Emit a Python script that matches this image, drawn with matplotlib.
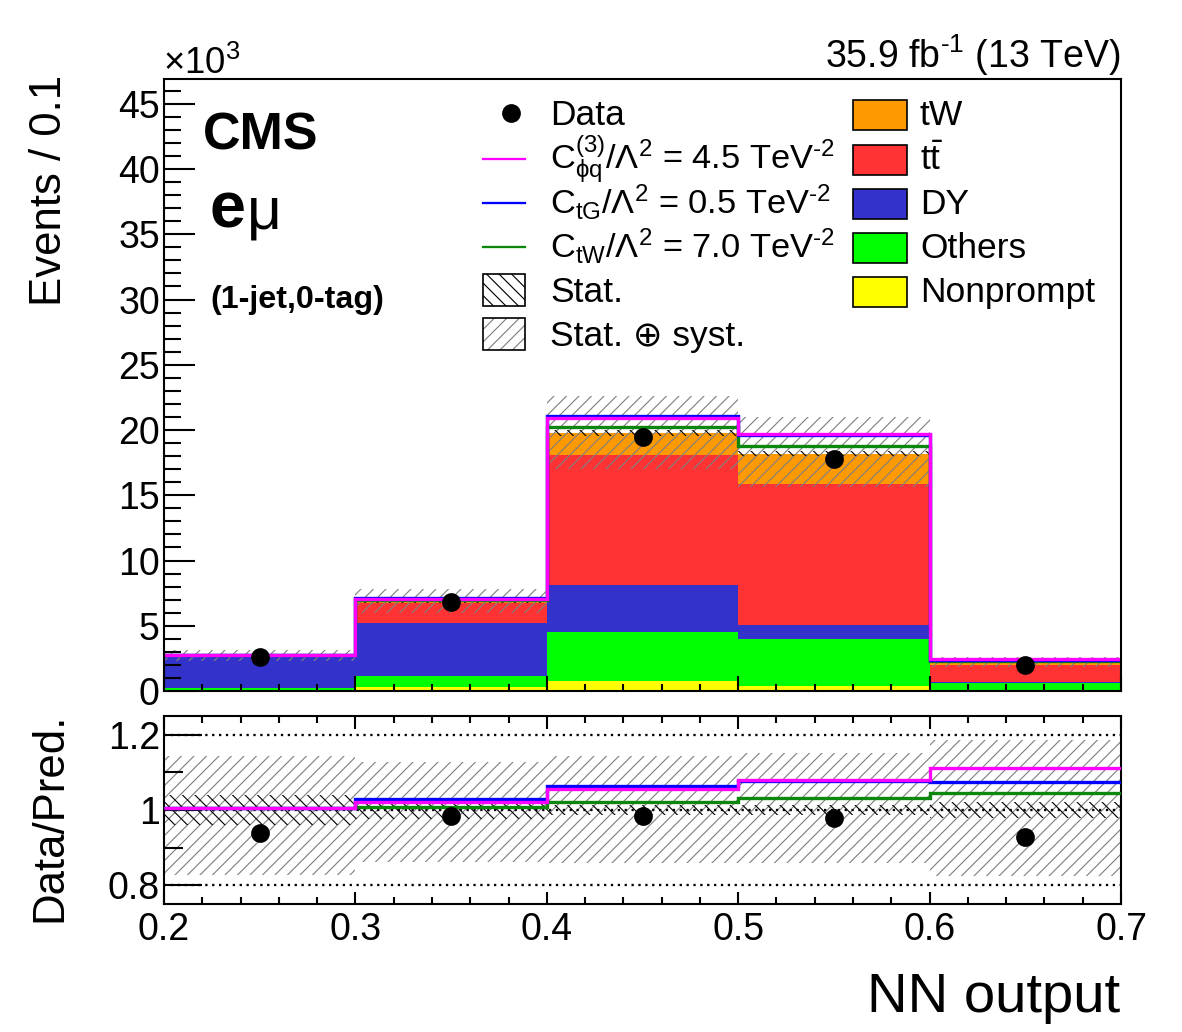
import numpy as np
import matplotlib
matplotlib.use("Agg")
import matplotlib.pyplot as plt
from matplotlib.patches import Rectangle
from matplotlib.lines import Line2D
from matplotlib.ticker import MultipleLocator, FuncFormatter, FixedLocator

# ---------------- data ----------------
bin_edges = [0.2, 0.3, 0.4, 0.5, 0.6, 0.7]
nonprompt = [80, 300, 760, 420, 20]
others = [170, 870, 3740, 3580, 600]
dy = [2430, 4010, 3650, 1080, 40]
ttbar = [50, 1530, 9950, 10820, 1360]
tw = [30, 200, 1700, 2300, 170]
data = [2590, 6800, 19500, 17800, 2030]
ratio_cphiq = [1.006, 1.022, 1.055, 1.081, 1.112]
ratio_ctg = [1.006, 1.028, 1.064, 1.077, 1.074]
ratio_ctw = [1.004, 1.008, 1.022, 1.031, 1.044]
stat_unc = [0.040, 0.025, 0.012, 0.012, 0.020]
tot_unc_up = [0.143, 0.128, 0.143, 0.152, 0.187]
tot_unc_down = [0.172, 0.137, 0.140, 0.140, 0.175]

stack_names = ["Nonprompt", "Others", "DY", r"t$\mathregular{\bar{t}}$", "tW"]
stack_colors = ["#ffff00", "#00ff00", "#3333cc", "#ff3333", "#ff9900"]
legend_order = [4, 3, 2, 1, 0]

# ---------------- style ----------------
plt.rcParams["font.family"] = ["Liberation Sans", "DejaVu Sans"]
plt.rcParams["mathtext.fontset"] = "custom"
plt.rcParams["mathtext.rm"] = "Liberation Sans"
plt.rcParams["mathtext.it"] = "Liberation Sans:italic"
plt.rcParams["mathtext.bf"] = "Liberation Sans:bold"
plt.rcParams["hatch.linewidth"] = 0.55

W, H = 1182, 1032
DPI = 150
fig = plt.figure(figsize=(W / DPI, H / DPI), dpi=DPI)


def fx(px):
    return px / W


def fy(py):
    return 1 - py / H


ax = fig.add_axes([fx(164), fy(691), (1121 - 164) / W, (691 - 79) / H])
rax = fig.add_axes([fx(164), fy(904), (1121 - 164) / W, (904 - 716) / H])

edges = np.array(bin_edges)
centers = 0.5 * (edges[:-1] + edges[1:])
comps = [np.array(v, float) for v in (nonprompt, others, dy, ttbar, tw)]
total = np.sum(comps, axis=0)
data_a = np.array(data, float)

# ---------------- main panel ----------------
base = np.zeros(len(total))
for vals, col in zip(comps, stack_colors):
    ax.stairs(base + vals, edges, baseline=base.copy(), fill=True,
              facecolor=col, edgecolor="none", lw=0)
    base = base + vals

up = total * (1 + np.array(tot_unc_up))
dn = total * (1 - np.array(tot_unc_down))
ax.stairs(up, edges, baseline=dn, fill=True, facecolor="none",
          edgecolor="#808080", hatch="////", lw=0)
sup = total * (1 + np.array(stat_unc))
sdn = total * (1 - np.array(stat_unc))
ax.stairs(sup, edges, baseline=sdn, fill=True, facecolor="none",
          edgecolor="black", hatch="\\\\\\\\", lw=0)

eft_sets = [(ratio_ctw, "#0c860c"), (ratio_ctg, "#0000ff"), (ratio_cphiq, "#ff00ff")]
for r, col in eft_sets:
    ax.stairs(total * np.array(r), edges, baseline=None, color=col, lw=1.6)

ax.plot(centers, data_a, "o", color="black", ms=8.0, zorder=5)

ax.set_xlim(0.2, 0.7)
ax.set_ylim(0, 46900)
ax.yaxis.set_major_locator(MultipleLocator(5000))
ax.yaxis.set_minor_locator(MultipleLocator(1000))
ax.xaxis.set_major_locator(MultipleLocator(0.1))
ax.xaxis.set_minor_locator(MultipleLocator(0.02))
ax.yaxis.set_major_formatter(FuncFormatter(lambda v, p: f"{v / 1000:.0f}"))
ax.tick_params(axis="both", which="both", direction="in", top=False, right=False,
               labelbottom=False, width=1.0, labelsize=18)
ax.tick_params(axis="y", which="major", length=15, pad=2)
ax.tick_params(axis="y", which="minor", length=8)
ax.tick_params(axis="x", which="major", length=7)
ax.tick_params(axis="x", which="minor", length=3.5)
for s in ax.spines.values():
    s.set_linewidth(1.0)

# ---------------- ratio panel ----------------
rax.stairs(1 + np.array(tot_unc_up), edges, baseline=1 - np.array(tot_unc_down),
           fill=True, facecolor="none", edgecolor="#808080", hatch="////", lw=0)
rax.stairs(1 + np.array(stat_unc), edges, baseline=1 - np.array(stat_unc),
           fill=True, facecolor="none", edgecolor="black", hatch="\\\\\\\\", lw=0)
for yv in (0.8, 1.0, 1.2):
    rax.axhline(yv, color="black", ls=(0, (1, 2)), lw=1.1, zorder=2)
for r, col in eft_sets:
    rax.stairs(np.array(r), edges, baseline=None, color=col, lw=1.6, zorder=3)
rax.plot(centers, data_a / total, "o", color="black", ms=8.0, zorder=5)

rax.set_xlim(0.2, 0.7)
rax.set_ylim(0.75, 1.25)
rax.yaxis.set_major_locator(FixedLocator([0.8, 1.0, 1.2]))
rax.yaxis.set_minor_locator(FixedLocator([0.9, 1.1]))
rax.yaxis.set_major_formatter(FuncFormatter(lambda v, p: f"{v:g}"))
rax.xaxis.set_major_locator(MultipleLocator(0.1))
rax.xaxis.set_minor_locator(MultipleLocator(0.02))
rax.xaxis.set_major_formatter(FuncFormatter(lambda v, p: f"{v:.1f}"))
rax.tick_params(axis="both", which="both", direction="in", top=True, right=False,
                width=1.0, labelsize=18)
rax.tick_params(axis="y", which="major", length=18, pad=2)
rax.tick_params(axis="y", which="minor", length=9)
rax.tick_params(axis="x", which="major", length=6, pad=4)
rax.tick_params(axis="x", which="minor", length=3.5)
for s in rax.spines.values():
    s.set_linewidth(1.0)

# ---------------- texts ----------------
fig.text(fx(50), fy(75), "Events / 0.1", rotation=90, ha="center", va="top", fontsize=21)
fig.text(fx(50), fy(817), "Data/Pred.", rotation=90, ha="center", va="center", fontsize=21)
fig.text(fx(1120), fy(1012), "NN output", ha="right", va="baseline", fontsize=27)
fig.text(fx(1120), fy(68), r"35.9 fb$^{\text{-1}}$ (13 TeV)", ha="right", va="baseline",
         fontsize=18)
fig.text(fx(163), fy(74), r"×10$^{3}$", ha="left", va="baseline", fontsize=17.5)
fig.text(fx(203), fy(150), "CMS", ha="left", va="baseline", fontsize=25, fontweight="bold")
fig.text(fx(210), fy(228), "e", ha="left", va="baseline", fontsize=31, fontweight="bold")
fig.text(fx(247), fy(228), "μ", ha="left", va="baseline", fontsize=29)
fig.text(fx(210), fy(308), "(1-jet,0-tag)", ha="left", va="baseline", fontsize=15.5,
         fontweight="bold")

# ---------------- legend (manual) ----------------
LX0, LX1, LTX = 483, 525, 550
rows = [113, 158, 202, 246, 290, 334]
leg_fs = 17

fig.add_artist(Line2D([fx(511)], [fy(rows[0])], marker="o", ms=8.0, color="black",
                      transform=fig.transFigure))
fig.text(fx(LTX), fy(rows[0] + 12), "Data", ha="left", va="baseline", fontsize=leg_fs)

eft_labels = [
    (r"$\mathregular{C^{(3)}_{\phi q}/\Lambda^{2}}$ = 4.5 TeV$^{\text{-2}}$", "#ff00ff"),
    (r"$\mathregular{C_{tG}/\Lambda^{2}}$ = 0.5 TeV$^{\text{-2}}$", "#0000ff"),
    (r"$\mathregular{C_{tW}/\Lambda^{2}}$ = 7.0 TeV$^{\text{-2}}$", "#0c860c"),
]
for i, (lab, col) in enumerate(eft_labels):
    yrow = rows[i + 1]
    fig.add_artist(Line2D([fx(LX0), fx(LX1)], [fy(yrow + 1)] * 2, color=col, lw=1.1,
                          transform=fig.transFigure))
    fig.text(fx(LTX), fy(yrow + 12), lab, ha="left", va="baseline", fontsize=16.5)

# stat boxes
for yrow, hcol, hatch, lab in [(rows[4], "black", "\\\\\\\\", "Stat."),
                               (rows[5], "#808080", "////", "Stat. ⊕ syst.")]:
    rect_h = Rectangle((fx(LX0), fy(yrow + 16)), (LX1 - LX0) / W, 32 / H,
                       transform=fig.transFigure, facecolor="white", edgecolor=hcol,
                       hatch=hatch, lw=0)
    rect_e = Rectangle((fx(LX0), fy(yrow + 16)), (LX1 - LX0) / W, 32 / H,
                       transform=fig.transFigure, facecolor="none", edgecolor="black",
                       lw=0.8)
    fig.add_artist(rect_h)
    fig.add_artist(rect_e)
    fig.text(fx(LTX), fy(yrow + 12), lab, ha="left", va="baseline", fontsize=leg_fs)

RX0, RX1, RTX = 853, 907, 920
for k, idx in enumerate(legend_order):
    yrow = rows[k] + 2
    rect = Rectangle((fx(RX0), fy(yrow + 15)), (RX1 - RX0) / W, 30 / H,
                     transform=fig.transFigure, facecolor=stack_colors[idx],
                     edgecolor="black", lw=0.8)
    fig.add_artist(rect)
    fig.text(fx(RTX), fy(rows[k] + 12), stack_names[idx], ha="left", va="baseline",
             fontsize=leg_fs)

fig.savefig("out.png", dpi=DPI)
